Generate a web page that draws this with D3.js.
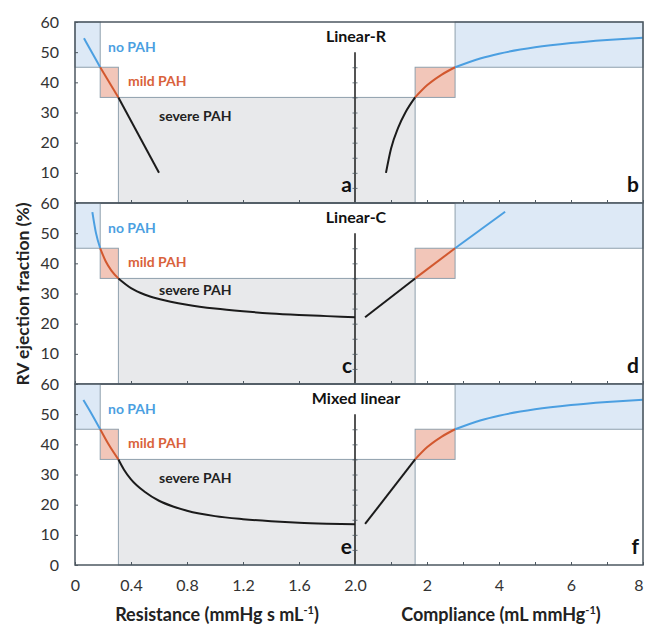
<!DOCTYPE html>
<html>
<head>
<meta charset="utf-8">
<script src="https://cdn.jsdelivr.net/npm/d3@7"></script>
<style>
  body { margin: 0; background: #fff; }
  svg { font-family: Lato, "Open Sans", sans-serif; }
</style>
</head>
<body>
<div id="chart"></div>
<script>
// ===========Data
var panelTitles = ["Linear-R", "Linear-C", "Mixed linear"];
var leftLetters = ["a", "c", "e"];
var rightLetters = ["b", "d", "f"];

var resistanceTicks = [0, 0.4, 0.8, 1.2, 1.6, 2.0];
var complianceTicks = [1, 2, 3, 4, 5, 6, 7, 8];
var efTicks = [60, 50, 40, 30, 20, 10, 0];

// EF thresholds (no / mild / severe PAH) and matching R, C limits
var efLimits = [35, 45, 60];
var resLimits = [0.18, 0.31];
var compLimits = [1.67, 2.78];

// [resistance, EF]
var linearR_res = [[0.064, 54.6], [0.18, 45], [0.31, 35], [0.6, 10]];
var linearC_res = [[0.124, 57], [0.15, 50], [0.18, 45], [0.22, 40.6], [0.26, 37.6], [0.31, 35],
  [0.4, 31.8], [0.5, 29.6], [0.6, 28.2], [0.8, 26.3], [1.0, 25.0], [1.2, 24.1],
  [1.4, 23.4], [1.6, 22.9], [1.8, 22.5], [2.0, 22.1]];
var mixed_res = [[0.06, 54.7], [0.12, 50], [0.18, 45], [0.245, 39.6], [0.31, 35],
  [0.35, 31.6], [0.4, 28.4], [0.5, 24.2], [0.6, 21.3], [0.7, 19.4], [0.8, 18.0],
  [1.0, 16.2], [1.2, 15.2], [1.4, 14.5], [1.6, 14.0], [1.8, 13.7], [2.0, 13.5]];

// [compliance, EF]
var linearR_comp = [[0.86, 10], [1.0, 18], [1.2, 25], [1.4, 30], [1.67, 35], [2.0, 39],
  [2.4, 42.5], [2.78, 45], [3.5, 48], [4, 49.5], [5, 51.6], [6, 53], [7, 54], [8, 54.8]];
var linearC_comp = [[0.28, 22.1], [1.67, 35], [2.78, 45], [4.17, 57.1]];
var mixed_comp = [[0.28, 13.6], [1.67, 35], [2.0, 39], [2.4, 42.5], [2.78, 45], [3.5, 48],
  [4, 49.5], [5, 51.6], [6, 53], [7, 54], [8, 54.8]];

var leftCurves = [linearR_res, linearC_res, mixed_res];
var rightCurves = [linearR_comp, linearC_comp, mixed_comp];

// ===========Layout
var svgWidth = 645, svgHeight = 626;
var left = 75, mid = 355, right = 643;
var panelTops = [22, 203, 384];
var panelH = 181;

var colors = {
  blue: "#4b9fe1", red: "#d2582f", black: "#1b1b1b",
  blueFill: "#dde9f6", redFill: "#f2c6b9", grayFill: "#e8e9eb",
  boxStroke: "#8fa0ad", frame: "#4d5861", text: "#333"
};

var svg = d3.select("#chart").append("svg")
  .attr("width", svgWidth)
  .attr("height", svgHeight);

svg.append("rect").attr("width", svgWidth).attr("height", svgHeight).attr("fill", "#fff");

var xR = d3.scaleLinear().domain([0, 2]).range([left, mid]);
var xC = d3.scaleLinear().domain([0, 8]).range([mid, right]);

function splitSegments(pts) {
  return [
    { color: colors.blue, pts: pts.filter(d => d[1] >= efLimits[1]) },
    { color: colors.red, pts: pts.filter(d => d[1] >= efLimits[0] && d[1] <= efLimits[1]) },
    { color: colors.black, pts: pts.filter(d => d[1] <= efLimits[0]) }
  ].filter(s => s.pts.length > 1);
}

panelTops.forEach(function(top, i) {
  var y = d3.scaleLinear().domain([0, 60]).range([top + panelH, top]);
  var g = svg.append("g");

  // ===========Region boxes
  var boxes = [
    { x0: xR(0), x1: xR(resLimits[0]), e0: efLimits[1], e1: 60, fill: colors.blueFill },
    { x0: xR(resLimits[0]), x1: xR(resLimits[1]), e0: efLimits[0], e1: efLimits[1], fill: colors.redFill },
    { x0: xR(resLimits[1]), x1: xC(compLimits[0]), e0: 0, e1: efLimits[0], fill: colors.grayFill },
    { x0: xC(compLimits[0]), x1: xC(compLimits[1]), e0: efLimits[0], e1: efLimits[1], fill: colors.redFill },
    { x0: xC(compLimits[1]), x1: xC(8), e0: efLimits[1], e1: 60, fill: colors.blueFill }
  ];
  g.selectAll("rect.box").data(boxes).enter().append("rect")
    .attr("class", "box")
    .attr("x", d => d.x0)
    .attr("y", d => y(d.e1))
    .attr("width", d => d.x1 - d.x0)
    .attr("height", d => y(d.e0) - y(d.e1))
    .attr("fill", d => d.fill)
    .attr("stroke", colors.boxStroke)
    .attr("stroke-width", 1);

  // ===========Curves
  var lineR = d3.line().x(d => xR(d[0])).y(d => y(d[1])).curve(d3.curveMonotoneX);
  var lineC = d3.line().x(d => xC(d[0])).y(d => y(d[1])).curve(d3.curveMonotoneX);

  splitSegments(leftCurves[i]).forEach(function(s) {
    g.append("path").attr("d", lineR(s.pts)).attr("fill", "none")
      .attr("stroke", s.color).attr("stroke-width", 2);
  });
  splitSegments(rightCurves[i]).forEach(function(s) {
    g.append("path").attr("d", lineC(s.pts)).attr("fill", "none")
      .attr("stroke", s.color).attr("stroke-width", 2);
  });

  // ===========Middle divider with ticks
  g.append("line")
    .attr("x1", mid).attr("x2", mid)
    .attr("y1", y(50)).attr("y2", y(0))
    .attr("stroke", colors.black).attr("stroke-width", 1.5);
  var divAxis = g.append("g")
    .attr("transform", `translate(${mid - 2.5}, 0)`)
    .call(d3.axisLeft(y).tickValues(d3.range(5, 50, 5)).tickSizeInner(-5).tickSizeOuter(0).tickFormat(""));
  divAxis.select(".domain").remove();
  divAxis.selectAll("line").attr("stroke", colors.frame).attr("stroke-width", 0.8);

  // ===========Left axis (inward ticks)
  var yAxis = g.append("g")
    .attr("transform", `translate(${left}, 0)`)
    .call(d3.axisLeft(y)
      .tickValues(i === 2 ? efTicks : efTicks.slice(0, 6))
      .tickSizeInner(-3).tickSizeOuter(0).tickPadding(16));
  yAxis.select(".domain").remove();
  yAxis.selectAll("line").attr("stroke", colors.frame);
  yAxis.selectAll("text")
    .attr("font-size", 16).attr("fill", colors.text)
    .attr("font-family", "Lato, sans-serif");

  // ===========Bottom axes (inward ticks)
  var showLabels = i === 2;
  var bR = g.append("g")
    .attr("transform", `translate(0, ${top + panelH})`)
    .call(d3.axisBottom(xR).tickValues(resistanceTicks).tickSizeInner(-3).tickSizeOuter(0)
      .tickPadding(15).tickFormat(d => showLabels ? (d === 0 ? "0" : d3.format(".1f")(d)) : ""));
  var bC = g.append("g")
    .attr("transform", `translate(0, ${top + panelH})`)
    .call(d3.axisBottom(xC).tickValues(complianceTicks).tickSizeInner(-3).tickSizeOuter(0)
      .tickPadding(15).tickFormat(d => showLabels && d % 2 === 0 ? d : ""));
  [bR, bC].forEach(function(a) {
    a.select(".domain").remove();
    a.selectAll("line").attr("stroke", colors.frame);
    a.selectAll("text").attr("font-size", 16).attr("fill", colors.text)
      .attr("font-family", "Lato, sans-serif");
  });
  bC.selectAll("text").filter(d => d === 8).attr("text-anchor", "end").attr("dx", 0);

  // ===========Panel frame
  g.append("rect")
    .attr("x", left).attr("y", top)
    .attr("width", right - left).attr("height", panelH)
    .attr("fill", "none").attr("stroke", colors.frame).attr("stroke-width", 1.5);

  // ===========Texts
  g.append("text")
    .attr("x", mid + 1).attr("y", top + 20)
    .attr("text-anchor", "middle")
    .attr("font-size", 16).attr("font-weight", "bold").attr("fill", "#111")
    .text(panelTitles[i]);

  g.append("text").attr("x", 108).attr("y", top + 30)
    .attr("font-size", 14).attr("font-weight", "bold").attr("fill", colors.blue)
    .text("no PAH");
  g.append("text").attr("x", 128).attr("y", top + 64)
    .attr("font-size", 14).attr("font-weight", "bold").attr("fill", "#d9623b")
    .text("mild PAH");
  g.append("text").attr("x", 159).attr("y", top + (i === 1 ? 92 : 99))
    .attr("font-size", 14).attr("font-weight", "bold").attr("fill", "#222")
    .text("severe PAH");

  g.append("text").attr("x", mid - 3).attr("y", top + 170)
    .attr("text-anchor", "end")
    .attr("font-size", 21).attr("font-weight", "bold").attr("fill", "#111")
    .text(leftLetters[i]);
  g.append("text").attr("x", right - 4).attr("y", top + 170)
    .attr("text-anchor", "end")
    .attr("font-size", 21).attr("font-weight", "bold").attr("fill", "#111")
    .text(rightLetters[i]);
});

// ===========Axis titles
svg.append("text")
  .attr("transform", "translate(29, 294) rotate(-90)")
  .attr("text-anchor", "middle")
  .attr("font-size", 17.5).attr("font-weight", "bold").attr("fill", "#222")
  .text("RV ejection fraction (%)");

var resTitle = svg.append("text")
  .attr("x", xR(1) + 2).attr("y", 621)
  .attr("text-anchor", "middle")
  .attr("font-size", 18).attr("font-weight", "bold").attr("fill", "#222");
resTitle.append("tspan").text("Resistance (mmHg s mL");
resTitle.append("tspan").attr("dy", -7).attr("font-size", 11).text("-1");
resTitle.append("tspan").attr("dy", 7).text(")");

var compTitle = svg.append("text")
  .attr("x", xC(4) + 2).attr("y", 621)
  .attr("text-anchor", "middle")
  .attr("font-size", 18).attr("font-weight", "bold").attr("fill", "#222");
compTitle.append("tspan").text("Compliance (mL mmHg");
compTitle.append("tspan").attr("dy", -7).attr("font-size", 11).text("-1");
compTitle.append("tspan").attr("dy", 7).text(")");
</script>
</body>
</html>
